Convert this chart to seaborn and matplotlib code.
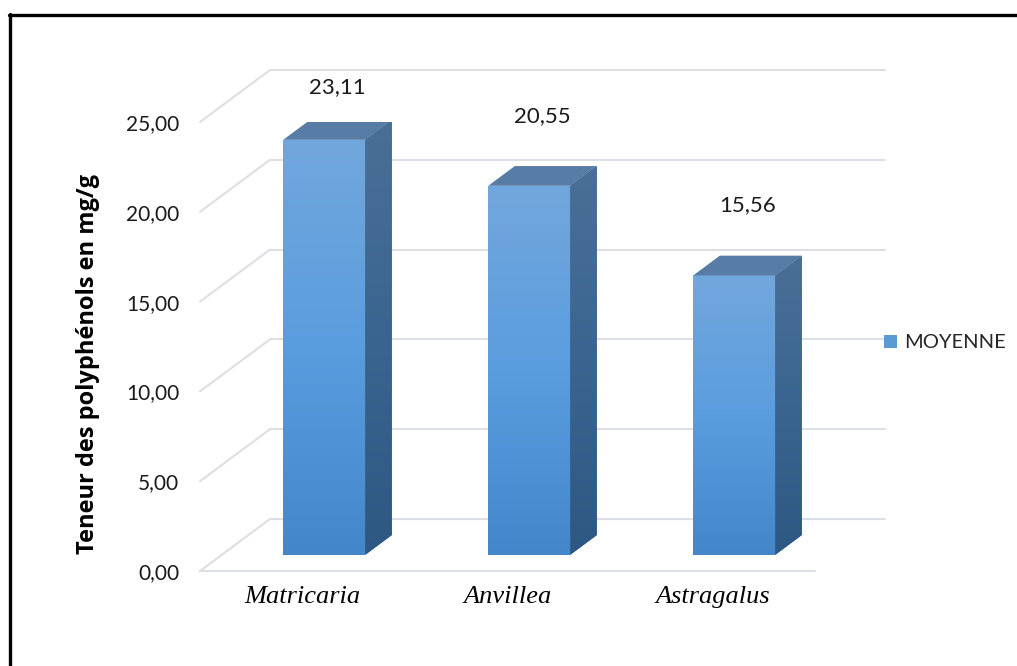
import numpy as np
import matplotlib
matplotlib.use("Agg")
import matplotlib.pyplot as plt
from matplotlib.patches import Polygon, Patch
from matplotlib.colors import LinearSegmentedColormap
import seaborn as sns

# Polyphenol content per plant (mg/g)
categories = ["Matricaria", "Anvillea", "Astragalus"]
values = [23.11, 20.55, 15.56]
value_labels = ["23,11", "20,55", "15,56"]
yticks = [0, 5, 10, 15, 20, 25]
ytick_labels = ["0,00", "5,00", "10,00", "15,00", "20,00", "25,00"]
series_name = "MOYENNE"
ylabel = "Teneur des polyphénols en mg/g"

sns.set_theme(style="white")
plt.rcParams["font.family"] = ["Lato", "DejaVu Sans"]

fig = plt.figure(figsize=(10.17, 6.66), dpi=100)
ax = fig.add_axes([200 / 1017, 95 / 666, 615 / 1017, 449 / 666])
ax.set_xlim(-0.5, 2.5)
ax.set_ylim(0, 25)
ax.patch.set_alpha(0)
for s in ax.spines.values():
    s.set_visible(False)

# Oblique depth of the 3D box, in data units
DX, DY = 0.3415, 2.895
F_FRONT, F_BACK = 0.31, 0.69

grid_kw = dict(color="#dcdfe4", lw=1.5, clip_on=False, zorder=0)
x0, x1 = ax.get_xlim()
for t in yticks:
    ax.plot([x0 + DX, x1 + DX], [t + DY, t + DY], **grid_kw)  # back wall
    ax.plot([x0, x0 + DX], [t, t + DY], **grid_kw)            # side wall
ax.plot([x0, x1], [0, 0], **grid_kw)                          # floor front edge

# Front faces via seaborn
sns.barplot(x=categories, y=values, width=0.4, color="#5b9bd5",
            saturation=1, ax=ax, zorder=2)

front_cmap = LinearSegmentedColormap.from_list("front", ["#4386ca", "#5a9ddf", "#72a7dc"])
side_cmap = LinearSegmentedColormap.from_list("side", ["#2c5882", "#3a6590", "#4a6f96"])
grad = np.linspace(0, 1, 256).reshape(-1, 1)

for p in ax.patches[:len(values)]:
    bx, w, h = p.get_x(), p.get_width(), p.get_height()
    p.set_x(bx + F_FRONT * DX)
    p.set_y(F_FRONT * DY)
    p.set_edgecolor("none")
    fx0, fx1 = bx + F_FRONT * DX, bx + w + F_FRONT * DX
    fy0, fy1 = F_FRONT * DY, h + F_FRONT * DY
    d = (F_BACK - F_FRONT)
    # front gradient
    im = ax.imshow(grad, cmap=front_cmap, origin="lower", aspect="auto",
                   extent=[fx0, fx1, fy0, fy1], zorder=3)
    im.set_clip_path(p)
    # right side face
    side = Polygon([(fx1, fy0), (fx1 + d * DX, fy0 + d * DY),
                    (fx1 + d * DX, fy1 + d * DY), (fx1, fy1)],
                   closed=True, facecolor="#3a6590", edgecolor="none", zorder=2)
    ax.add_patch(side)
    im2 = ax.imshow(grad, cmap=side_cmap, origin="lower", aspect="auto",
                    extent=[fx1, fx1 + d * DX, fy0, fy1 + d * DY], zorder=3)
    im2.set_clip_path(side)
    # top face
    top = Polygon([(fx0, fy1), (fx1, fy1), (fx1 + d * DX, fy1 + d * DY),
                   (fx0 + d * DX, fy1 + d * DY)],
                  closed=True, facecolor="#577ca6", edgecolor="none", zorder=3)
    ax.add_patch(top)

ax.set_xlim(x0, x1)
ax.set_ylim(0, 25)

# Value labels above each box
label_cap = yticks[-1] + DY - 0.95
for i, (v, lab) in enumerate(zip(values, value_labels)):
    ly = min(v + F_BACK * DY + 2.8, label_cap)
    ax.text(i + 0.5 * DX, ly, lab, ha="center", va="center",
            fontsize=16, color="#1a1a1a", clip_on=False)

ax.set_yticks(yticks)
ax.set_yticklabels(ytick_labels, fontsize=15, color="#1a1a1a")
ax.set_xticks(range(len(categories)))
ax.set_xticklabels(categories, fontsize=19, style="italic",
                   family="Liberation Serif", color="black")
ax.tick_params(axis="y", length=0, pad=15)
ax.tick_params(axis="x", length=0, pad=11)
ax.set_xlabel("")
ax.set_ylabel("")

fig.text(88 / 1017, 1 - 364 / 666, ylabel, rotation=90, ha="center", va="center",
         fontsize=17, fontweight="bold", family=["Open Sans", "DejaVu Sans"],
         color="black")

fig.legend(handles=[Patch(facecolor="#5b9bd5", edgecolor="none", label=series_name)],
           loc="center left", bbox_to_anchor=(876 / 1017, 1 - 343 / 666),
           frameon=False, fontsize=14.5, handlelength=0.62, handleheight=0.62,
           handletextpad=0.4, borderaxespad=0)

# Outer frame: top and left rules
fig.add_artist(plt.Line2D([9 / 1017, 1], [1 - 14.5 / 666, 1 - 14.5 / 666],
                          color="black", lw=2.4, transform=fig.transFigure))
fig.add_artist(plt.Line2D([9.5 / 1017, 9.5 / 1017], [0, 1 - 13.5 / 666],
                          color="black", lw=2.4, transform=fig.transFigure))

fig.savefig("out.png", dpi=100, facecolor="white")
